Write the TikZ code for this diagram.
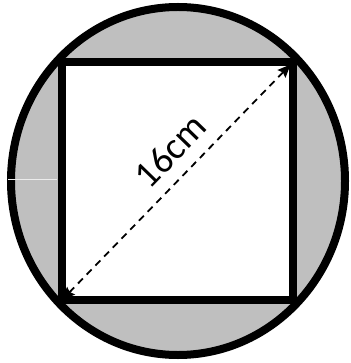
\documentclass[tikz,border=0pt]{standalone}
\usepackage{fontspec}
\setmainfont{Carlito}
\usetikzlibrary{arrows.meta}

\begin{document}
\begin{tikzpicture}[x=1pt,y=-1pt,
thickline/.style={line width=7.5pt},
diag/.style={line width=1.8pt,dash pattern=on 7pt off 5.5pt,
  {Stealth[length=13pt,width=11pt,inset=2pt]}-{Stealth[length=13pt,width=11pt,inset=2pt]}}]
\useasboundingbox (0,0) rectangle (350,363);
\coordinate (O) at (178,181);
\coordinate (sw) at (62,300);
\coordinate (ne) at (293,62);
\filldraw[fill=black!25,line width=8pt] (O) ellipse [x radius=167,y radius=174];
\draw[white!85!gray,line width=0.8pt] (8,179) -- (57,179);
\fill[white] (sw) rectangle (ne);
\draw[diag,shorten >=3.5pt] (sw) -- node[sloped,above=9pt,pos=0.55,font=\fontsize{38}{40}\selectfont] {16cm} (ne);
\draw[thickline] (sw) rectangle (ne);
\end{tikzpicture}
\end{document}
